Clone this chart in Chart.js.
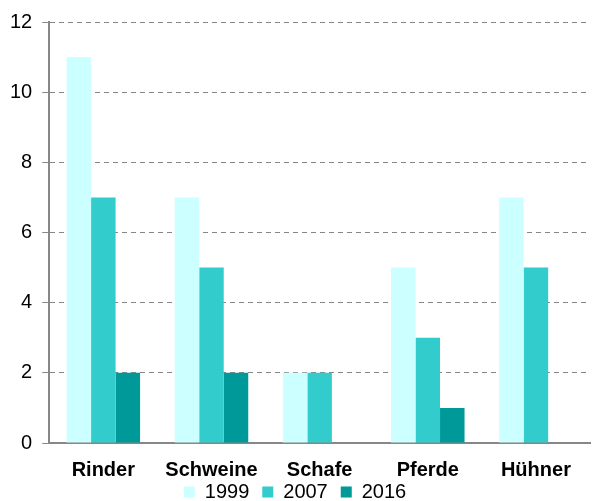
<!DOCTYPE html>
<html>
<head>
<meta charset="utf-8">
<script src="https://cdn.jsdelivr.net/npm/chart.js@4.4.0/dist/chart.umd.min.js"></script>
<style>
  html, body { margin: 0; padding: 0; background: #fff; }
  #wrap { width: 593px; height: 501px; }
</style>
</head>
<body>
<div id="wrap"><canvas id="chart" width="593" height="501"></canvas></div>
<script>
const categories = ['Rinder', 'Schweine', 'Schafe', 'Pferde', 'Hühner'];
const seriesLabels = ['1999', '2007', '2016'];
const values1999 = [11, 7, 2, 5, 7];
const values2007 = [7, 5, 2, 3, 5];
const values2016 = [2, 2, 0, 1, 0];
const seriesColors = ['#CCFFFF', '#33CCCC', '#009999'];

const fontFamily = '"Liberation Sans", Arial, sans-serif';
const axisGray = '#878787';

const datasets = [values1999, values2007, values2016].map((data, i) => ({
  label: seriesLabels[i],
  data,
  backgroundColor: seriesColors[i],
  borderWidth: 0,
  categoryPercentage: 0.68,
  barPercentage: 1,
}));

// pull the legend up so it sits right under the category labels
const legendShift = {
  id: 'legendShift',
  afterLayout(chart) {
    chart.legend.top -= 28;
    chart.legend.bottom -= 28;
  },
};

new Chart(document.getElementById('chart'), {
  type: 'bar',
  data: { labels: categories, datasets },
  plugins: [legendShift],
  options: {
    responsive: false,
    animation: false,
    layout: { padding: { top: 16, right: 3, left: 0, bottom: -39 } },
    plugins: {
      tooltip: { enabled: false },
      legend: {
        position: 'bottom',
        labels: {
          boxWidth: 11,
          boxHeight: 11,
          padding: 13,
          color: '#000',
          font: { family: fontFamily, size: 20 },
        },
      },
    },
    scales: {
      x: {
        grid: { display: false, drawTicks: false },
        border: { display: true, color: axisGray, width: 2 },
        ticks: {
          color: '#000',
          padding: 15,
          font: { family: fontFamily, size: 20, weight: 'bold' },
        },
      },
      y: {
        min: 0,
        max: 12,
        ticks: {
          stepSize: 2,
          color: '#000',
          padding: 10,
          font: { family: fontFamily, size: 20 },
        },
        grid: {
          color: axisGray,
          tickLength: 7,
          tickColor: axisGray,
        },
        border: { display: true, color: axisGray, width: 2, dash: [5, 4] },
      },
    },
  },
});
</script>
</body>
</html>
